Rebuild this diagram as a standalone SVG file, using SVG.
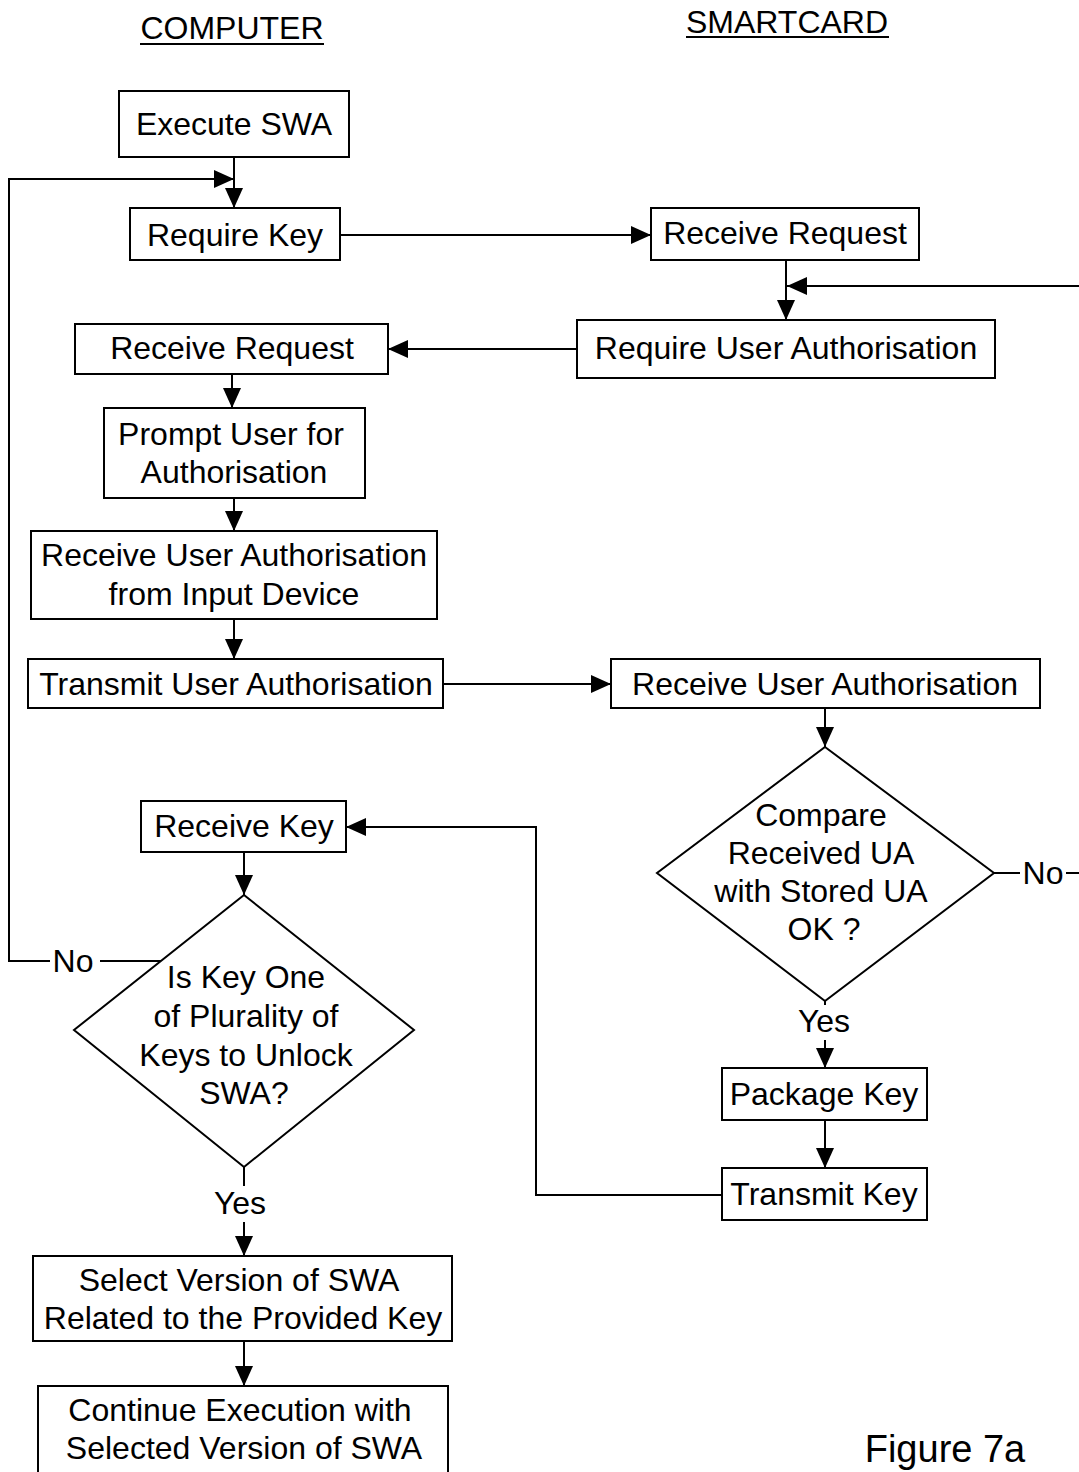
<svg xmlns="http://www.w3.org/2000/svg" width="1079" height="1472" viewBox="0 0 1079 1472">
<style>
.b{fill:#fff;stroke:#000;stroke-width:2}
.t{font-family:"Liberation Sans",Arial,sans-serif;font-size:32px;fill:#000;text-anchor:middle}
.c{fill:none;stroke:#000;stroke-width:2}
</style>
<defs>
<marker id="a" markerUnits="userSpaceOnUse" markerWidth="20" markerHeight="18" viewBox="0 0 20 18" refX="20" refY="9" orient="auto">
<path d="M0,0 L20,9 L0,18 Z" fill="#000"/>
</marker>
</defs>
<rect width="1079" height="1472" fill="#fff"/>
<g id="headers">
<text class="t" x="232" y="39">COMPUTER</text>
<line x1="140" y1="44" x2="324" y2="44" stroke="#000" stroke-width="2"/>
<text class="t" x="787" y="33">SMARTCARD</text>
<line x1="686" y1="37" x2="889" y2="37" stroke="#000" stroke-width="2"/>
</g>
<g id="connectors">
<path class="c" d="M234,157 V208" marker-end="url(#a)"/>
<path class="c" d="M100,961 H161"/>
<path class="c" d="M50,961 H9 V179 H234" marker-end="url(#a)"/>
<path class="c" d="M340,235 H651" marker-end="url(#a)"/>
<path class="c" d="M786,260 V320" marker-end="url(#a)"/>
<path class="c" d="M1079,286 H787" marker-end="url(#a)"/>
<path class="c" d="M577,349 H388" marker-end="url(#a)"/>
<path class="c" d="M232,374 V408" marker-end="url(#a)"/>
<path class="c" d="M234,498 V531" marker-end="url(#a)"/>
<path class="c" d="M234,619 V659" marker-end="url(#a)"/>
<path class="c" d="M443,684 H611" marker-end="url(#a)"/>
<path class="c" d="M825,708 V747" marker-end="url(#a)"/>
<path class="c" d="M994,873 H1020"/>
<path class="c" d="M1066,873 H1079"/>
<path class="c" d="M825,1001 V1005"/>
<path class="c" d="M825,1040 V1068" marker-end="url(#a)"/>
<path class="c" d="M825,1120 V1168" marker-end="url(#a)"/>
<path class="c" d="M722,1195 H536 V827 H346" marker-end="url(#a)"/>
<path class="c" d="M244,852 V895" marker-end="url(#a)"/>
<path class="c" d="M244,1167 V1186"/>
<path class="c" d="M244,1222 V1256" marker-end="url(#a)"/>
<path class="c" d="M244,1341 V1386" marker-end="url(#a)"/>
<text class="t" x="73" y="972">No</text>
<text class="t" x="1043" y="884">No</text>
<text class="t" x="824" y="1032">Yes</text>
<text class="t" x="240" y="1214">Yes</text>
</g>
<g id="n1"><rect class="b" x="119" y="91" width="230" height="66"/><text class="t" x="234" y="135">Execute SWA</text></g>
<g id="n2"><rect class="b" x="130" y="208" width="210" height="52"/><text class="t" x="235" y="246">Require Key</text></g>
<g id="n3"><rect class="b" x="651" y="208" width="268" height="52"/><text class="t" x="785" y="244">Receive Request</text></g>
<g id="n4"><rect class="b" x="577" y="320" width="418" height="58"/><text class="t" x="786" y="359">Require User Authorisation</text></g>
<g id="n5"><rect class="b" x="75" y="324" width="313" height="50"/><text class="t" x="232" y="359">Receive Request</text></g>
<g id="n6"><rect class="b" x="104" y="408" width="261" height="90"/><text class="t" x="231" y="445">Prompt User for</text><text class="t" x="234" y="483">Authorisation</text></g>
<g id="n7"><rect class="b" x="31" y="531" width="406" height="88"/><text class="t" x="234" y="566">Receive User Authorisation</text><text class="t" x="234" y="605">from Input Device</text></g>
<g id="n8"><rect class="b" x="28" y="659" width="415" height="49"/><text class="t" x="236" y="695">Transmit User Authorisation</text></g>
<g id="n9"><rect class="b" x="611" y="659" width="429" height="49"/><text class="t" x="825" y="695">Receive User Authorisation</text></g>
<g id="n10"><path class="b" d="M825,747 L994,873 L825,1001 L657,873 Z"/><text class="t" x="821" y="826">Compare</text><text class="t" x="821" y="864">Received UA</text><text class="t" x="821" y="902">with Stored UA</text><text class="t" x="824" y="940">OK ?</text></g>
<g id="n11"><rect class="b" x="722" y="1068" width="205" height="52"/><text class="t" x="824" y="1105">Package Key</text></g>
<g id="n12"><rect class="b" x="722" y="1168" width="205" height="52"/><text class="t" x="824" y="1205">Transmit Key</text></g>
<g id="n13"><rect class="b" x="141" y="801" width="205" height="51"/><text class="t" x="244" y="837">Receive Key</text></g>
<g id="n14"><path class="b" d="M244,895 L414,1030 L244,1167 L74,1030 Z"/><text class="t" x="246" y="988">Is Key One</text><text class="t" x="246" y="1027">of Plurality of</text><text class="t" x="246" y="1066">Keys to Unlock</text><text class="t" x="244" y="1104">SWA?</text></g>
<g id="n15"><rect class="b" x="33" y="1256" width="419" height="85"/><text class="t" x="239" y="1291">Select Version of SWA</text><text class="t" x="243" y="1329">Related to the Provided Key</text></g>
<g id="n16"><rect class="b" x="38" y="1386" width="410" height="90"/><text class="t" x="240" y="1421">Continue Execution with</text><text class="t" x="244" y="1459">Selected Version of SWA</text></g>
<text x="945" y="1462" style="font-family:'Liberation Sans',Arial,sans-serif;font-size:38px;text-anchor:middle">Figure 7a</text>
</svg>
